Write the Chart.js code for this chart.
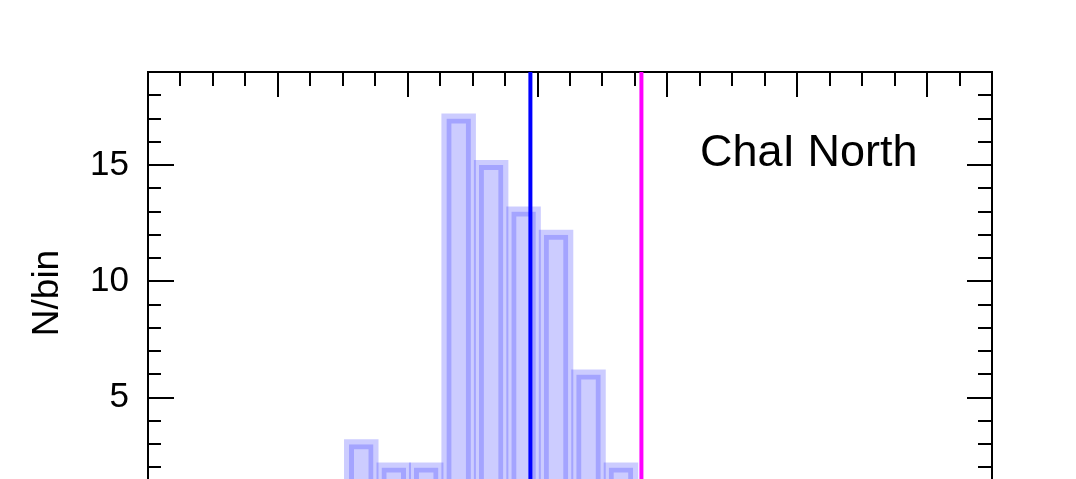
<!DOCTYPE html>
<html>
<head>
<meta charset="utf-8">
<script src="https://cdn.jsdelivr.net/npm/chart.js@4/dist/chart.umd.min.js"></script>
<style>
html, body { margin: 0; padding: 0; background: #fff; overflow: hidden; }
#wrap { position: relative; width: 1076px; height: 479px; overflow: hidden; background: #fff; }
#c { position: absolute; left: 0; top: 0; }
#label { position: absolute; left: 700px; top: 128px; font: 45px/1 'Liberation Sans', Arial, sans-serif; color: #000; white-space: nowrap; }
</style>
</head>
<body>
<div id="wrap">
  <canvas id="c" width="1076" height="600"></canvas>
  <div id="label">ChaI North</div>
</div>
<script>
// ---- data ----
const binCenters = [6.57, 7.57, 8.57, 9.57, 10.57, 11.57, 12.57, 13.57, 14.57];
const counts     = [3, 2, 2, 17, 15, 13, 12, 6, 2];
const blueLineX    = 11.78;
const magentaLineX = 15.20;
const xMin = 0, xMax = 26, xMajorStep = 4, xMinorStep = 1;
const yMin = 0, yMax = 19, yMajorStep = 5, yMinorStep = 1;
const yTitle = 'N/bin';

const FONT = "'Liberation Sans', Arial, Helvetica, sans-serif";
Chart.defaults.color = '#000';
Chart.defaults.font.family = FONT;

const barData = binCenters.map((x, i) => ({ x: x, y: counts[i] }));

// inward tick marks drawn as dashed grid lines (dash at both ends only)
function tickDash(len, vertical) {
  return function (ctx) {
    const a = ctx.chart && ctx.chart.chartArea;
    if (!a) return [];
    const L = vertical ? (a.bottom - a.top) : (a.right - a.left - 1);
    return [len, Math.max(0, L - 2 * len), len, 10000];
  };
}

new Chart(document.getElementById('c'), {
  type: 'bar',
  data: {
    datasets: [
      { type: 'line', data: [{ x: blueLineX, y: yMin }, { x: blueLineX, y: yMax }],
        borderColor: '#0000ff', borderWidth: 4, pointRadius: 0, order: 0,
        xAxisID: 'x', yAxisID: 'y' },
      { type: 'line', data: [{ x: magentaLineX, y: yMin }, { x: magentaLineX, y: yMax }],
        borderColor: '#ff00ff', borderWidth: 4, pointRadius: 0, order: 0,
        xAxisID: 'x', yAxisID: 'y' },
      { type: 'bar', data: barData, xAxisID: 'x', yAxisID: 'y',
        backgroundColor: 'rgba(0,0,255,0.2)', borderWidth: 0, inflateAmount: 5,
        grouped: false, order: 2, barPercentage: 0.755, categoryPercentage: 1 },
      { type: 'bar', data: barData, xAxisID: 'x', yAxisID: 'y',
        backgroundColor: 'rgba(0,0,0,0)', borderColor: 'rgba(0,0,255,0.2)',
        borderWidth: 5, borderSkipped: false, inflateAmount: 0,
        grouped: false, order: 1, barPercentage: 0.755, categoryPercentage: 1 }
    ]
  },
  options: {
    responsive: false,
    animation: false,
    events: [],
    layout: { padding: { top: 72, right: 84, bottom: 86, left: 0 } },
    plugins: { legend: { display: false }, tooltip: { enabled: false }, title: { display: false } },
    scales: {
      x: {
        type: 'linear', position: 'bottom', min: xMin, max: xMax, offset: false,
        ticks: { display: false, stepSize: xMajorStep, includeBounds: false },
        grid: { display: true, drawOnChartArea: true, drawTicks: false, offset: false, color: '#000', lineWidth: 2 },
        border: { display: true, color: '#000', width: 2, dash: tickDash(25, true) }
      },
      xMinor: {
        type: 'linear', position: 'top', min: xMin, max: xMax, offset: false,
        ticks: { display: false, stepSize: xMinorStep, includeBounds: false },
        grid: { display: true, drawOnChartArea: true, drawTicks: false, offset: false, color: '#000', lineWidth: 2 },
        border: { display: true, color: '#000', width: 2, dash: tickDash(13, true) }
      },
      y: {
        type: 'linear', position: 'left', min: yMin, max: yMax,
        afterFit: function (s) { s.width = 148; },
        ticks: { stepSize: yMajorStep, includeBounds: false, autoSkip: false, padding: 19,
                 color: '#000', font: { family: FONT, size: 35 } },
        grid: { display: true, drawTicks: false, color: '#000', lineWidth: 2 },
        border: { display: true, color: '#000', width: 2, dash: tickDash(25, false) },
        title: { display: true, text: yTitle, color: '#000', font: { family: FONT, size: 37 },
                 padding: { top: 26, bottom: 0 } }
      },
      yMinor: {
        type: 'linear', position: 'right', min: yMin, max: yMax,
        ticks: { display: false, stepSize: yMinorStep, includeBounds: false },
        grid: { display: true, drawTicks: false, color: '#000', lineWidth: 2 },
        border: { display: true, color: '#000', width: 2, dash: tickDash(13, false) }
      }
    }
  }
});
</script>
</body>
</html>
